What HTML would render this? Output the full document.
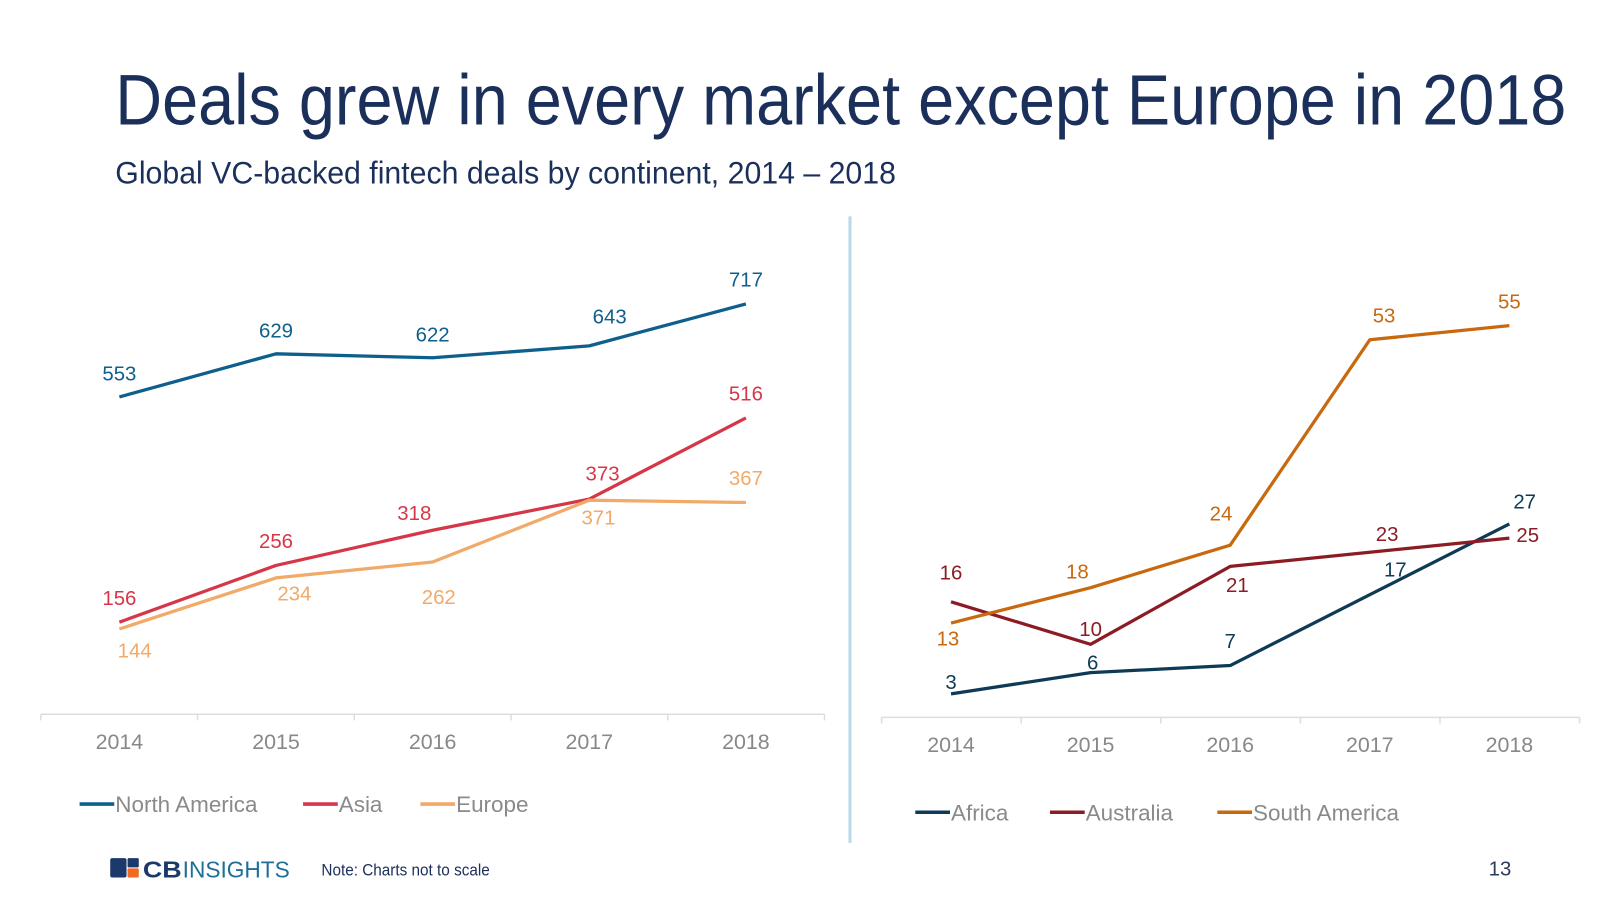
<!DOCTYPE html>
<html><head><meta charset="utf-8"><style>
html,body{margin:0;padding:0;background:#fff;}
svg{display:block;font-family:"Liberation Sans",sans-serif;}
</style></head><body>
<svg id="chart" width="1600" height="911" viewBox="0 0 1600 911" xmlns="http://www.w3.org/2000/svg">
<g transform="scale(1.0204)">
<text x="113" y="122" font-size="70" fill="#1b2f5b" textLength="1422" lengthAdjust="spacingAndGlyphs">Deals grew in every market except Europe in 2018</text>
<text x="113" y="180" font-size="31" fill="#1b2f5b" textLength="765" lengthAdjust="spacingAndGlyphs">Global VC-backed fintech deals by continent, 2014 – 2018</text>
<line x1="833" y1="212" x2="833" y2="826" stroke="#b9d9ea" stroke-width="3"/>
<g id="left"></g>
<g id="right"></g>
<g>
<rect x="108" y="841" width="16" height="19" rx="2" fill="#1b3a6b"/>
<rect x="125" y="841" width="11" height="9" rx="1" fill="#1b3a6b"/>
<rect x="125" y="851" width="11" height="9" rx="1" fill="#f26a21"/>
<text x="140" y="860" font-size="23" font-weight="bold" fill="#1b3a6b" textLength="38" lengthAdjust="spacingAndGlyphs">CB</text>
<text x="179" y="860" font-size="23" fill="#1f6e98" textLength="105" lengthAdjust="spacingAndGlyphs">INSIGHTS</text>
</g>
<text x="315" y="858" font-size="16" fill="#1b2f5b" textLength="165" lengthAdjust="spacingAndGlyphs">Note: Charts not to scale</text>
<text x="1470" y="858" font-size="20" fill="#2a3b5b" text-anchor="middle">13</text>
</g>
</svg>
<script>
const years = ["2014","2015","2016","2017","2018"];
const northAmerica = [553,629,622,643,717];
const asia = [156,256,318,373,516];
const europe = [144,234,262,371,367];
const africa = [3,6,7,17,27];
const australia = [16,10,21,23,25];
const southAmerica = [13,18,24,53,55];
// label offsets [dx, dy] relative to point (layout only)
const naOff=[[0,-16],[0,-16],[0,-16],[20,-22],[0,-17]];
const asiaOff=[[0,-17],[0,-17],[-18,-10],[13,-18],[0,-17]];
const euOff=[[15,28],[18,22],[6,41],[9,24],[0,-17]];
const afOff=[[0,-5],[2,-3],[0,-17],[25,-18],[15,-15]];
const auOff=[[0,-22],[0,-8],[7,25],[17,-11],[18,4]];
const saOff=[[-3,22],[-13,-9],[-9,-24],[14,-17],[0,-17]];
const NS="http://www.w3.org/2000/svg";
function mk(parent,tag,attrs){const e=document.createElementNS(NS,tag);for(const k in attrs)e.setAttribute(k,attrs[k]);parent.appendChild(e);return e;}
function chart(g,cfg){
  const xs=i=>cfg.x0+i*cfg.dx;
  const ys=v=>cfg.yRef-(v-cfg.vRef)*cfg.k;
  const ax=mk(g,'line',{x1:cfg.axL,y1:cfg.axY,x2:cfg.axR,y2:cfg.axY,stroke:'#ddd','stroke-width':1.5});
  
  
  for(let i=0;i<=years.length;i++){const tx=cfg.axL+i*(cfg.axR-cfg.axL)/years.length;
    const t=mk(g,'line',{x1:tx,y1:cfg.axY,x2:tx,y2:cfg.axY+6,stroke:'#ddd','stroke-width':1.5});
    
    }
  years.forEach((y,i)=>{const t=mk(g,'text',{x:xs(i),y:cfg.axY+34,'font-size':21,fill:'#888','text-anchor':'middle'});t.textContent=y;
    
    });
  cfg.series.forEach(s=>{
    const p=mk(g,'polyline',{points:s.vals.map((v,i)=>xs(i)+','+ys(v)).join(' '),fill:'none',stroke:s.color,'stroke-width':3.2,'stroke-linejoin':'round'});
    
    
    s.vals.forEach((v,i)=>{const t=mk(g,'text',{x:xs(i)+s.off[i][0],y:ys(v)+s.off[i][1],'font-size':20,fill:s.color,'text-anchor':'middle'});t.textContent=v;
      
      });
  });
  cfg.series.forEach((s,j)=>{const lx=cfg.leg[j];
    const l=mk(g,'line',{x1:lx,y1:cfg.legY,x2:lx+34,y2:cfg.legY,stroke:s.color,'stroke-width':3.5});
    
    
    const t=mk(g,'text',{x:lx+35,y:cfg.legY+8,'font-size':22,fill:'#8a8a8a'});t.textContent=s.name;
    
    });
}
chart(document.getElementById('left'),{x0:117,dx:153.5,yRef:389,vRef:553,k:0.556,axL:40,axR:808,axY:700,legY:788,leg:[78,297,412],
 series:[{name:'North America',vals:northAmerica,color:'#0f5f8c',off:naOff},{name:'Asia',vals:asia,color:'#d63748',off:asiaOff},{name:'Europe',vals:europe,color:'#f1aa68',off:euOff}]});
chart(document.getElementById('right'),{x0:932,dx:136.8,yRef:680,vRef:3,k:6.94,axL:864,axR:1548,axY:703,legY:796,leg:[897,1029,1193],
 series:[{name:'Africa',vals:africa,color:'#0e3a55',off:afOff},{name:'Australia',vals:australia,color:'#8c1c24',off:auOff},{name:'South America',vals:southAmerica,color:'#c8690f',off:saOff}]});
</script>
</body></html>
